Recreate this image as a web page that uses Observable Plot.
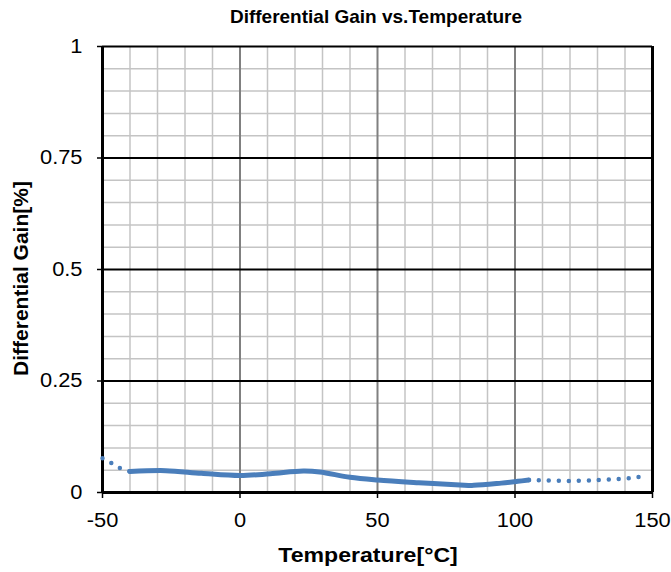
<!DOCTYPE html>
<html>
<head>
<meta charset="utf-8">
<script src="https://cdn.jsdelivr.net/npm/d3@7"></script>
<script src="https://cdn.jsdelivr.net/npm/@observablehq/plot@0.6"></script>
<style>
  html, body { margin: 0; padding: 0; background: #fff; }
  #chart svg { display: block; font-family: "Liberation Sans", Arial, sans-serif; }
</style>
</head>
<body>
<div id="chart"></div>
<script>
const title = "Differential Gain vs.Temperature";
const xLabel = "Temperature[°C]";
const yLabel = "Differential Gain[%]";

// Measured (solid) curve
const solidTemp = [-40, -27, -14, 0, 11, 23, 29, 40, 50, 65, 80, 85, 95, 101, 105];
const solidGain = [0.047, 0.049, 0.043, 0.038, 0.042, 0.048, 0.046, 0.034, 0.028, 0.022, 0.017, 0.016, 0.021, 0.025, 0.028];

// Dotted extensions
const leftTemp = [-50, -46.7, -43.5, -40];
const leftGain = [0.077, 0.066, 0.054, 0.047];
const rightTemp = [105, 110, 120, 128, 133, 137, 141, 144, 148];
const rightGain = [0.028, 0.027, 0.026, 0.027, 0.029, 0.030, 0.032, 0.034, 0.036];

// Ticks and grid
const xTicks = [-50, 0, 50, 100, 150];
const yTicks = [0, 0.25, 0.5, 0.75, 1];
const xMinor = [-40, -30, -20, -10, 10, 20, 30, 40, 60, 70, 80, 90, 110, 120, 130, 140];
const xMajorGrid = [0, 50, 100];
const yMinor = [0.05, 0.1, 0.15, 0.2, 0.3, 0.35, 0.4, 0.45, 0.55, 0.6, 0.65, 0.7, 0.8, 0.85, 0.9, 0.95];
const yMajorGrid = [0.25, 0.5, 0.75];

const solid = solidTemp.map((t, i) => ({t, g: solidGain[i]}));
const left = leftTemp.map((t, i) => ({t, g: leftGain[i]}));
const right = rightTemp.map((t, i) => ({t, g: rightGain[i]}));

const blue = "#4a7ebb";

const chart = Plot.plot({
  width: 671,
  height: 572,
  marginLeft: 102,
  marginRight: 19,
  marginTop: 46,
  marginBottom: 80,
  style: {fontFamily: "'Liberation Sans', Arial, sans-serif", background: "#fff"},
  x: {domain: [-50, 150]},
  y: {domain: [0, 1]},
  marks: [
    Plot.ruleX(xMinor, {stroke: "#c4c4c4", strokeWidth: 1.5}),
    Plot.ruleY(yMinor, {stroke: "#c4c4c4", strokeWidth: 1.5}),
    Plot.ruleX(xMajorGrid, {stroke: "#808080", strokeWidth: 2}),
    Plot.ruleY(yMajorGrid, {stroke: "#000", strokeWidth: 2}),
    Plot.ruleY([1], {stroke: "#000", strokeWidth: 2}),
    Plot.ruleX([150], {stroke: "#000", strokeWidth: 3}),
    Plot.axisX({ticks: xTicks, tickSize: 6, tickPadding: 14.5, fontSize: 19.5, stroke: "#000", strokeWidth: 1.5, label: null, tickFormat: d => String(d), color: "#000"}),
    Plot.axisY({ticks: yTicks, tickSize: 5, tickPadding: 15, fontSize: 19.5, stroke: "#000", strokeWidth: 1.5, label: null, tickFormat: d => String(d), color: "#000"}),
    Plot.ruleX([-50], {stroke: "#000", strokeWidth: 3}),
    Plot.ruleY([0], {stroke: "#000", strokeWidth: 3}),
    Plot.line(left, {x: "t", y: "g", stroke: blue, strokeWidth: 4.5, strokeDasharray: "0 10", strokeLinecap: "round", curve: "linear"}),
    Plot.line(right, {x: "t", y: "g", stroke: blue, strokeWidth: 4.5, strokeDasharray: "0 10", strokeLinecap: "round", curve: "catmull-rom"}),
    Plot.line(solid, {x: "t", y: "g", stroke: blue, strokeWidth: 5, strokeLinecap: "round", curve: "catmull-rom"}),
    Plot.text([title], {frameAnchor: "top", lineAnchor: "middle", dy: -29.3, dx: -1.5, fontSize: 19, fontWeight: "bold", fill: "#000"}),
    Plot.text([xLabel], {frameAnchor: "bottom", lineAnchor: "middle", dy: 63, dx: -9.5, fontSize: 21, fontWeight: "bold", fill: "#000"}),
    Plot.text([yLabel], {frameAnchor: "left", lineAnchor: "middle", textAnchor: "middle", dx: -81, dy: 9, rotate: -90, fontSize: 21, fontWeight: "bold", fill: "#000"})
  ]
});

document.getElementById("chart").appendChild(chart);

// slight horizontal stretch of tick labels and x label, as in the reference rendering
function stretchEl(el, k) {
  const w = el.getComputedTextLength();
  el.setAttribute("textLength", (w * k).toFixed(2));
  el.setAttribute("lengthAdjust", "spacingAndGlyphs");
}
d3.select(chart).selectAll('g[aria-label$="tick label"] text').each(function () { stretchEl(this, 1.12); });
d3.select(chart).selectAll('text').filter(function () { return this.textContent === xLabel; })
  .each(function () { stretchEl(this, 1.1); });
</script>
</body>
</html>
